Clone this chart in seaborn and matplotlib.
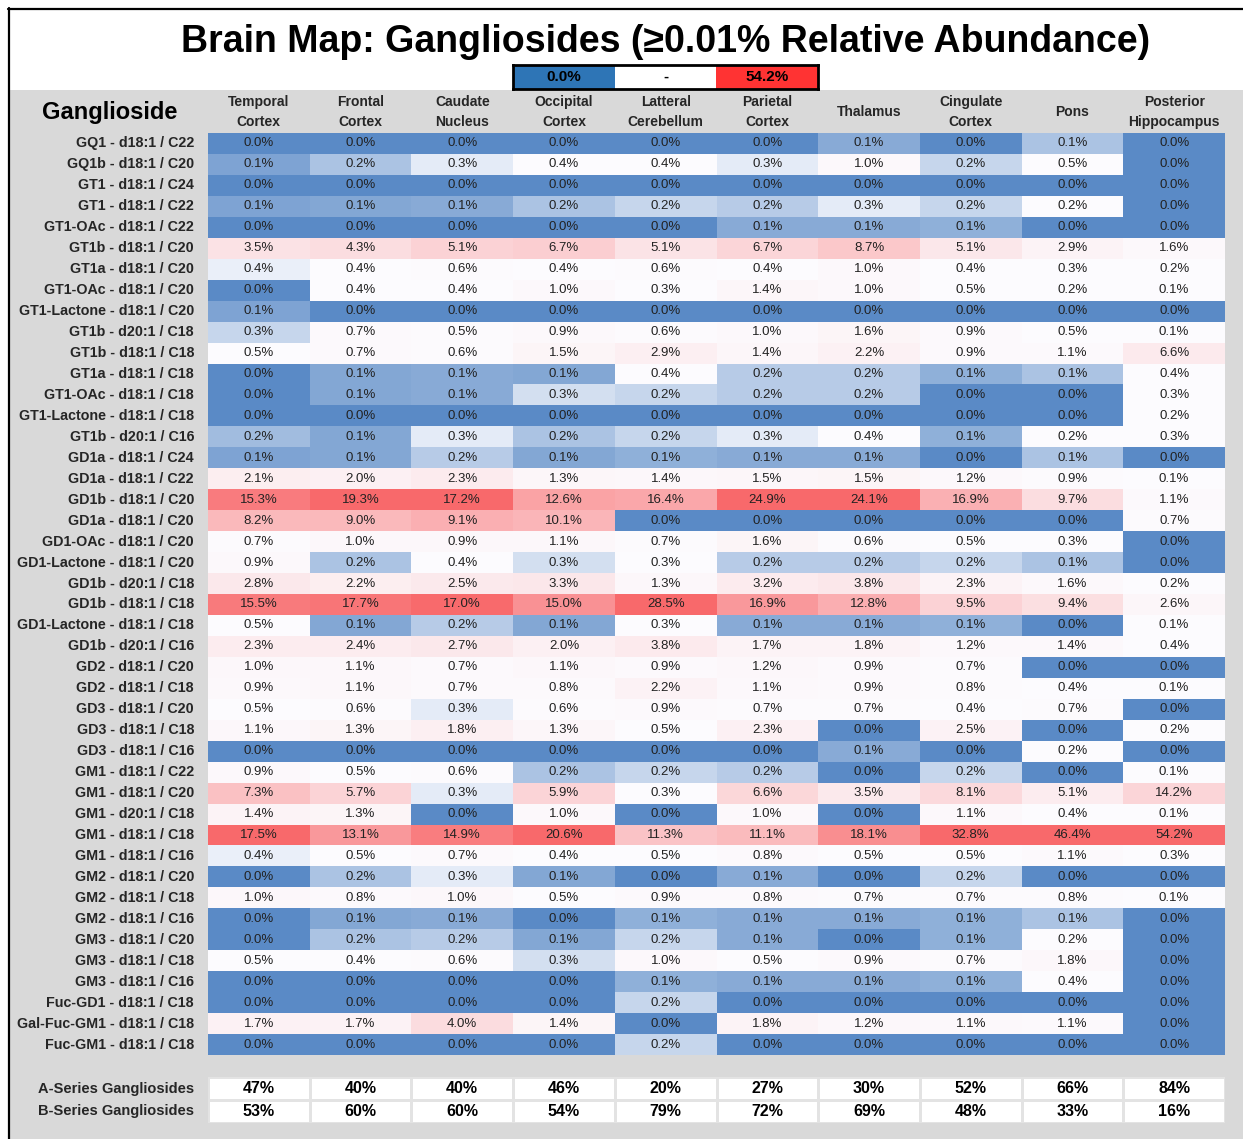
import numpy as np
import pandas as pd
import matplotlib
matplotlib.use("Agg")
import matplotlib.pyplot as plt
import seaborn as sns
from matplotlib.colors import LinearSegmentedColormap, ListedColormap
from matplotlib.patches import Rectangle
from matplotlib.lines import Line2D

# ---------------------------------------------------------------- data
regions = ["Temporal\nCortex", "Frontal\nCortex", "Caudate\nNucleus", "Occipital\nCortex",
           "Latteral\nCerebellum", "Parietal\nCortex", "Thalamus", "Cingulate\nCortex",
           "Pons", "Posterior\nHippocampus"]

species = [
    "GQ1 - d18:1 / C22", "GQ1b - d18:1 / C20", "GT1 - d18:1 / C24", "GT1 - d18:1 / C22",
    "GT1-OAc - d18:1 / C22", "GT1b - d18:1 / C20", "GT1a - d18:1 / C20", "GT1-OAc - d18:1 / C20",
    "GT1-Lactone - d18:1 / C20", "GT1b - d20:1 / C18", "GT1b - d18:1 / C18", "GT1a - d18:1 / C18",
    "GT1-OAc - d18:1 / C18", "GT1-Lactone - d18:1 / C18", "GT1b - d20:1 / C16", "GD1a - d18:1 / C24",
    "GD1a - d18:1 / C22", "GD1b - d18:1 / C20", "GD1a - d18:1 / C20", "GD1-OAc - d18:1 / C20",
    "GD1-Lactone - d18:1 / C20", "GD1b - d20:1 / C18", "GD1b - d18:1 / C18", "GD1-Lactone - d18:1 / C18",
    "GD1b - d20:1 / C16", "GD2 - d18:1 / C20", "GD2 - d18:1 / C18", "GD3 - d18:1 / C20",
    "GD3 - d18:1 / C18", "GD3 - d18:1 / C16", "GM1 - d18:1 / C22", "GM1 - d18:1 / C20",
    "GM1 - d20:1 / C18", "GM1 - d18:1 / C18", "GM1 - d18:1 / C16", "GM2 - d18:1 / C20",
    "GM2 - d18:1 / C18", "GM2 - d18:1 / C16", "GM3 - d18:1 / C20", "GM3 - d18:1 / C18",
    "GM3 - d18:1 / C16", "Fuc-GD1 - d18:1 / C18", "Gal-Fuc-GM1 - d18:1 / C18", "Fuc-GM1 - d18:1 / C18",
]

temporal = [0.0, 0.1, 0.0, 0.1, 0.0, 3.5, 0.4, 0.0, 0.1, 0.3, 0.5, 0.0, 0.0, 0.0, 0.2,
            0.1, 2.1, 15.3, 8.2, 0.7, 0.9, 2.8, 15.5, 0.5, 2.3, 1.0, 0.9, 0.5, 1.1, 0.0,
            0.9, 7.3, 1.4, 17.5, 0.4, 0.0, 1.0, 0.0, 0.0, 0.5, 0.0, 0.0, 1.7, 0.0]
frontal = [0.0, 0.2, 0.0, 0.1, 0.0, 4.3, 0.4, 0.4, 0.0, 0.7, 0.7, 0.1, 0.1, 0.0, 0.1,
           0.1, 2.0, 19.3, 9.0, 1.0, 0.2, 2.2, 17.7, 0.1, 2.4, 1.1, 1.1, 0.6, 1.3, 0.0,
           0.5, 5.7, 1.3, 13.1, 0.5, 0.2, 0.8, 0.1, 0.2, 0.4, 0.0, 0.0, 1.7, 0.0]
caudate = [0.0, 0.3, 0.0, 0.1, 0.0, 5.1, 0.6, 0.4, 0.0, 0.5, 0.6, 0.1, 0.1, 0.0, 0.3,
           0.2, 2.3, 17.2, 9.1, 0.9, 0.4, 2.5, 17.0, 0.2, 2.7, 0.7, 0.7, 0.3, 1.8, 0.0,
           0.6, 0.3, 0.0, 14.9, 0.7, 0.3, 1.0, 0.1, 0.2, 0.6, 0.0, 0.0, 4.0, 0.0]
occipital = [0.0, 0.4, 0.0, 0.2, 0.0, 6.7, 0.4, 1.0, 0.0, 0.9, 1.5, 0.1, 0.3, 0.0, 0.2,
             0.1, 1.3, 12.6, 10.1, 1.1, 0.3, 3.3, 15.0, 0.1, 2.0, 1.1, 0.8, 0.6, 1.3, 0.0,
             0.2, 5.9, 1.0, 20.6, 0.4, 0.1, 0.5, 0.0, 0.1, 0.3, 0.0, 0.0, 1.4, 0.0]
cerebellum = [0.0, 0.4, 0.0, 0.2, 0.0, 5.1, 0.6, 0.3, 0.0, 0.6, 2.9, 0.4, 0.2, 0.0, 0.2,
              0.1, 1.4, 16.4, 0.0, 0.7, 0.3, 1.3, 28.5, 0.3, 3.8, 0.9, 2.2, 0.9, 0.5, 0.0,
              0.2, 0.3, 0.0, 11.3, 0.5, 0.0, 0.9, 0.1, 0.2, 1.0, 0.1, 0.2, 0.0, 0.2]
parietal = [0.0, 0.3, 0.0, 0.2, 0.1, 6.7, 0.4, 1.4, 0.0, 1.0, 1.4, 0.2, 0.2, 0.0, 0.3,
            0.1, 1.5, 24.9, 0.0, 1.6, 0.2, 3.2, 16.9, 0.1, 1.7, 1.2, 1.1, 0.7, 2.3, 0.0,
            0.2, 6.6, 1.0, 11.1, 0.8, 0.1, 0.8, 0.1, 0.1, 0.5, 0.1, 0.0, 1.8, 0.0]
thalamus = [0.1, 1.0, 0.0, 0.3, 0.1, 8.7, 1.0, 1.0, 0.0, 1.6, 2.2, 0.2, 0.2, 0.0, 0.4,
            0.1, 1.5, 24.1, 0.0, 0.6, 0.2, 3.8, 12.8, 0.1, 1.8, 0.9, 0.9, 0.7, 0.0, 0.1,
            0.0, 3.5, 0.0, 18.1, 0.5, 0.0, 0.7, 0.1, 0.0, 0.9, 0.1, 0.0, 1.2, 0.0]
cingulate = [0.0, 0.2, 0.0, 0.2, 0.1, 5.1, 0.4, 0.5, 0.0, 0.9, 0.9, 0.1, 0.0, 0.0, 0.1,
             0.0, 1.2, 16.9, 0.0, 0.5, 0.2, 2.3, 9.5, 0.1, 1.2, 0.7, 0.8, 0.4, 2.5, 0.0,
             0.2, 8.1, 1.1, 32.8, 0.5, 0.2, 0.7, 0.1, 0.1, 0.7, 0.1, 0.0, 1.1, 0.0]
pons = [0.1, 0.5, 0.0, 0.2, 0.0, 2.9, 0.3, 0.2, 0.0, 0.5, 1.1, 0.1, 0.0, 0.0, 0.2,
        0.1, 0.9, 9.7, 0.0, 0.3, 0.1, 1.6, 9.4, 0.0, 1.4, 0.0, 0.4, 0.7, 0.0, 0.2,
        0.0, 5.1, 0.4, 46.4, 1.1, 0.0, 0.8, 0.1, 0.2, 1.8, 0.4, 0.0, 1.1, 0.0]
hippocampus = [0.0, 0.0, 0.0, 0.0, 0.0, 1.6, 0.2, 0.1, 0.0, 0.1, 6.6, 0.4, 0.3, 0.2, 0.3,
               0.0, 0.1, 1.1, 0.7, 0.0, 0.0, 0.2, 2.6, 0.1, 0.4, 0.0, 0.1, 0.0, 0.2, 0.0,
               0.1, 14.2, 0.1, 54.2, 0.3, 0.0, 0.1, 0.0, 0.0, 0.0, 0.0, 0.0, 0.0, 0.0]

a_series = [47, 40, 40, 46, 20, 27, 30, 52, 66, 84]
b_series = [53, 60, 60, 54, 79, 72, 69, 48, 33, 16]
series_names = ["A-Series Gangliosides", "B-Series Gangliosides"]

# ---------------------------------------------------------------- frame
abundance = pd.DataFrame(
    np.column_stack([temporal, frontal, caudate, occipital, cerebellum,
                     parietal, thalamus, cingulate, pons, hippocampus]),
    index=species, columns=regions)


def three_point_scale(col):
    """Min -> 0, median -> 0.5, max -> 1, linear in between (per region)."""
    v = col.to_numpy(dtype=float)
    lo, mid, hi = v.min(), np.percentile(v, 50), v.max()
    low = 0.5 * (v - lo) / (mid - lo) if mid > lo else np.full_like(v, 0.5)
    high = 0.5 + 0.5 * (v - mid) / (hi - mid) if hi > mid else np.full_like(v, 0.5)
    return pd.Series(np.where(v <= mid, low, high), index=col.index)


scaled = abundance.apply(three_point_scale, axis=0)
labels = abundance.map(lambda v: f"{v:.1f}%")

FONT = ["Liberation Sans Narrow", "Liberation Sans", "DejaVu Sans"]
sns.set_theme(style="white")
plt.rcParams["font.family"] = FONT

W, H = 1243, 1139
fig = plt.figure(figsize=(W / 100, H / 100), dpi=100)
fig.patch.set_facecolor("white")


def fx(px):
    return px / W


def fy(py):
    return 1 - py / H


# grey body and black frame
fig.add_artist(Rectangle((fx(10), 0), 1 - fx(10), fy(90), transform=fig.transFigure,
                         facecolor="#D9D9D9", edgecolor="none", zorder=0))
fig.add_artist(Line2D([fx(8.5), fx(8.5)], [0, fy(8)], transform=fig.transFigure,
                      color="black", lw=1.6))
fig.add_artist(Line2D([fx(8), 1], [fy(8.5), fy(8.5)], transform=fig.transFigure,
                      color="black", lw=1.6))

fig.text(fx(666), fy(42), "Brain Map: Gangliosides (\u22650.01% Relative Abundance)",
         ha="center", va="center", fontsize=27, fontweight="bold", color="black")

# ---------------------------------------------------------------- main heatmap
excel_cmap = LinearSegmentedColormap.from_list("blue_white_red",
                                               ["#5A8AC6", "#FCFCFF", "#F8696B"])
ax = fig.add_axes([fx(208), fy(1055), fx(1225) - fx(208), fy(133) - fy(1055)])
sns.heatmap(scaled, ax=ax, cmap=excel_cmap, vmin=0, vmax=1, cbar=False,
            annot=labels, fmt="", annot_kws=dict(fontsize=9.5, color="#222222"),
            linewidths=0)
ax.xaxis.tick_top()
ax.tick_params(axis="x", length=0, pad=15)
ax.tick_params(axis="y", length=0, pad=10)
for lab in ax.get_xticklabels():
    lab.set_rotation(0)
    lab.set_fontweight("bold")
    lab.set_fontsize(10)
    lab.set_linespacing(1.55)
    lab.set_va("center")
for lab in ax.get_yticklabels():
    lab.set_rotation(0)
    lab.set_fontweight("bold")
    lab.set_fontsize(10.3)
ax.set_xlabel("")
ax.set_ylabel("")

fig.text(fx(110), fy(112), "Ganglioside", ha="center", va="center",
         fontsize=17, fontweight="bold", color="black")

# ---------------------------------------------------------------- colour key
key_ax = fig.add_axes([fx(513), fy(89), fx(818) - fx(513), fy(65) - fy(89)])
key_vals = pd.DataFrame([[0, 1, 2]])
key_labels = np.array([[f"{abundance.values.min():.1f}%", "-",
                        f"{abundance.values.max():.1f}%"]])
sns.heatmap(key_vals, ax=key_ax, cmap=ListedColormap(["#2E75B6", "#FFFFFF", "#FF3333"]),
            vmin=-0.5, vmax=2.5, cbar=False, annot=key_labels, fmt="",
            annot_kws=dict(fontsize=11, fontweight="bold", color="black"),
            xticklabels=False, yticklabels=False)
for sp in key_ax.spines.values():
    sp.set_visible(True)
    sp.set_color("black")
    sp.set_linewidth(2)

# ---------------------------------------------------------------- series summary
series = pd.DataFrame([a_series, b_series], index=series_names, columns=regions)
series_labels = series.map(lambda v: f"{v}%")
sum_ax = fig.add_axes([fx(208), fy(1123), fx(1225) - fx(208), fy(1077) - fy(1123)])
sns.heatmap(series * 0, ax=sum_ax, cmap=ListedColormap(["white"]), cbar=False,
            annot=series_labels, fmt="",
            annot_kws=dict(fontsize=11.5, fontweight="bold", color="black"),
            linewidths=1, linecolor="#E3E3E3", xticklabels=False)
sum_ax.tick_params(axis="y", length=0, pad=10)
for lab in sum_ax.get_yticklabels():
    lab.set_rotation(0)
    lab.set_fontweight("bold")
    lab.set_fontsize(10.5)
sum_ax.set_ylabel("")

fig.savefig("out.png", dpi=100, facecolor=fig.get_facecolor())
